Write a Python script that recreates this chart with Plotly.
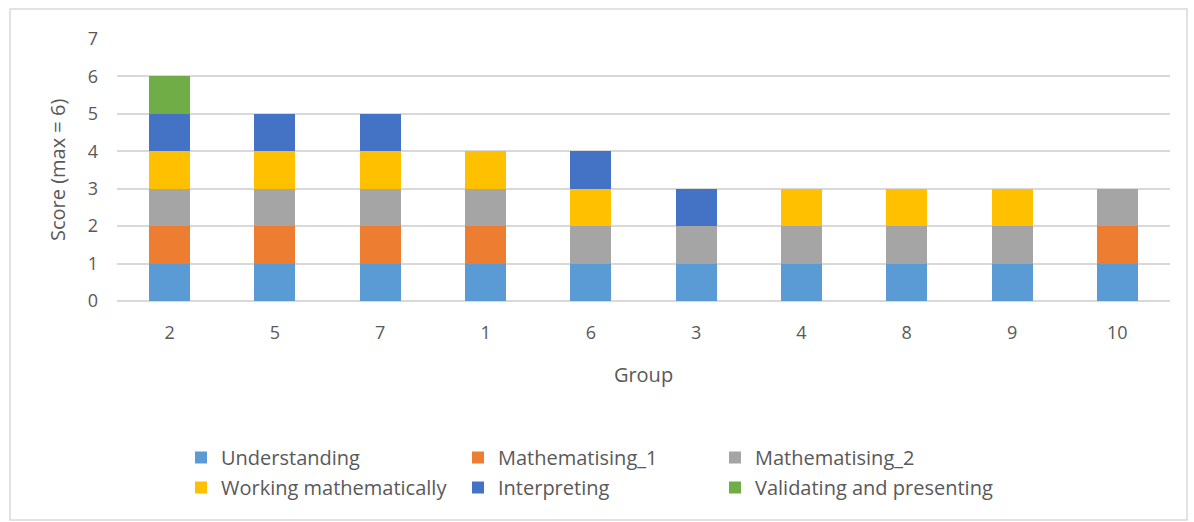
import plotly.graph_objects as go

groups = ["2", "5", "7", "1", "6", "3", "4", "8", "9", "10"]
understanding = [1, 1, 1, 1, 1, 1, 1, 1, 1, 1]
mathematising_1 = [1, 1, 1, 1, 0, 0, 0, 0, 0, 1]
mathematising_2 = [1, 1, 1, 1, 1, 1, 1, 1, 1, 1]
working_math = [1, 1, 1, 1, 1, 0, 1, 1, 1, 0]
interpreting = [1, 1, 1, 0, 1, 1, 0, 0, 0, 0]
validating = [1, 0, 0, 0, 0, 0, 0, 0, 0, 0]
y_ticks = [0, 1, 2, 3, 4, 5, 6, 7]

series = [
    ("Understanding", understanding, "#5B9BD5", "legend"),
    ("Mathematising_1", mathematising_1, "#ED7D31", "legend2"),
    ("Mathematising_2", mathematising_2, "#A5A5A5", "legend3"),
    ("Working mathematically", working_math, "#FFC000", "legend"),
    ("Interpreting", interpreting, "#4472C4", "legend2"),
    ("Validating and presenting", validating, "#70AD47", "legend3"),
]

FONT = "Open Sans, sans-serif"
TXT = "#595959"
W, H = 1194, 522

fig = go.Figure()
for name, vals, color, lg in series:
    fig.add_trace(go.Bar(
        name=name, x=groups, y=vals, marker_color=color,
        marker_line_width=0, legend=lg, legendgroup=name,
    ))

left, right, top, bottom = 117, 1170, 39, 301

def legend_at(px_x):
    # three column legends beneath the chart, positioned in pixels
    return dict(
        xref="container", yref="container",
        x=px_x / W, y=1 - 438 / H, xanchor="left", yanchor="top",
        orientation="v", font=dict(family=FONT, size=20, color=TXT),
        bgcolor="rgba(0,0,0,0)", tracegroupgap=1, itemwidth=30,
    )

fig.update_layout(
    width=W, height=H,
    barmode="stack", bargap=0.61,
    plot_bgcolor="white", paper_bgcolor="white",
    margin=dict(l=left, r=W - right, t=top, b=H - bottom, autoexpand=False),
    font=dict(family=FONT, size=18, color=TXT),
    showlegend=True,
    legend=legend_at(181),
    legend2=legend_at(458),
    legend3=legend_at(715),
    xaxis=dict(
        title=dict(text="Group", font=dict(size=20, color=TXT), standoff=24),
        automargin=False,
        showgrid=False, showline=False, zeroline=False,
        ticks="", ticklabelstandoff=19,
        tickfont=dict(size=18, color=TXT),
    ),
    yaxis=dict(
        automargin=False,
        range=[0, 7], tickvals=y_ticks,
        showgrid=True, gridcolor="#D9D9D9", gridwidth=1.5,
        zeroline=True, zerolinecolor="#D9D9D9", zerolinewidth=1.5,
        showline=False, ticks="", ticklabelstandoff=18,
        tickfont=dict(size=18, color=TXT),
    ),
    annotations=[dict(
        text="Score (max = 6)", textangle=-90, showarrow=False,
        xref="paper", yref="paper",
        x=(57 - left) / (right - left), y=(bottom - 170) / (bottom - top),
        xanchor="center", yanchor="middle",
        font=dict(family=FONT, size=20, color=TXT),
    )],
    shapes=[dict(
        type="rect", xref="paper", yref="paper",
        x0=(10 - left) / (right - left), x1=(1187 - left) / (right - left),
        y0=(bottom - 520) / (bottom - top), y1=(bottom - 9) / (bottom - top),
        line=dict(color="#D9D9D9", width=1.5), layer="below",
    )],
)

fig.write_html("out.html")
